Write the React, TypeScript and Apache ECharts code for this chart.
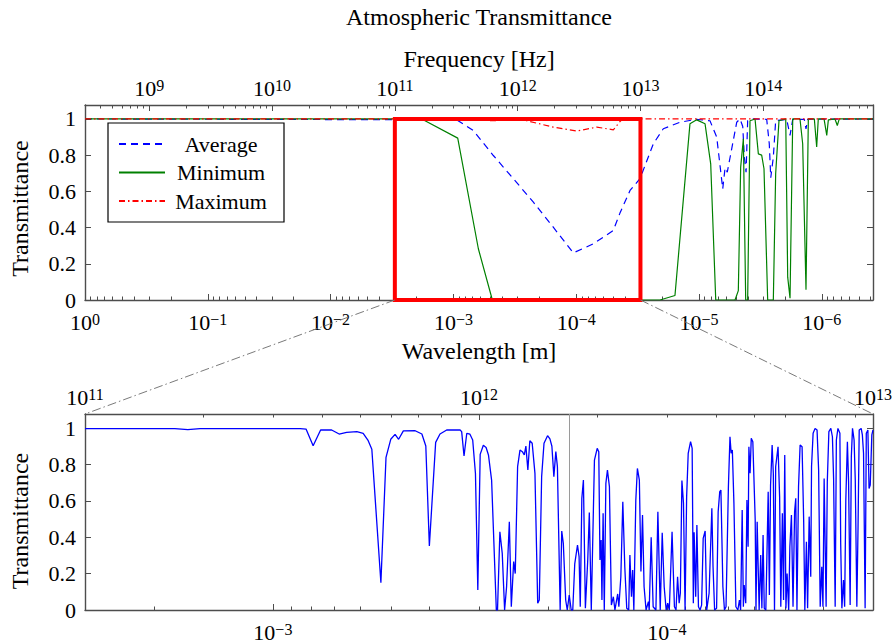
import React, { useEffect, useRef } from 'react';
import * as echarts from 'echarts';

// Speed of light relates the frequency and wavelength scales (λ = c / f)
const LIGHT_SPEED = 299792458;
const LOG_C = Math.log10(LIGHT_SPEED);

// Overview span, wavelength in metres
const LAMBDA_LONG = 1;
const LAMBDA_SHORT = 3.83e-7;

// Band enlarged in the detail panel, Hz
const DETAIL_BAND_HZ = [1e11, 1e13];

// Frequency (log10 Hz) where the detail trace switches data source
const DETAIL_DIVIDER_LOG_HZ = 12.232;

// Overview curves: x = log10(frequency / Hz), y = transmittance
const avgLogHz = [8.477, 11.504, 11.639, 11.802, 11.965, 12.128, 12.29, 12.453, 12.616, 12.779, 12.833, 12.915, 12.996, 13.105, 13.186, 13.322, 13.458, 13.566, 13.621, 13.67, 13.689, 13.707, 13.743, 13.784, 13.811, 13.833, 13.846, 13.86, 13.873, 13.919, 14.028, 14.049, 14.061, 14.082, 14.101, 14.191, 14.218, 14.24, 14.334, 14.348, 14.362, 14.894];
const avgT = [1, 0.995, 0.936, 0.798, 0.67, 0.54, 0.402, 0.26, 0.31, 0.384, 0.48, 0.605, 0.67, 0.863, 0.946, 0.982, 0.998, 0.99, 0.9, 0.614, 0.73, 0.706, 0.835, 0.982, 1, 0.958, 0.789, 0.706, 0.99, 1, 0.998, 0.863, 0.675, 0.789, 0.99, 0.998, 0.909, 0.998, 0.998, 0.945, 0.998, 1];

const minLogHz = [8.477, 11.219, 11.512, 11.68, 11.794, 13.159, 13.281, 13.403, 13.458, 13.526, 13.572, 13.613, 13.77, 13.797, 13.816, 13.838, 13.857, 13.873, 13.892, 13.933, 13.96, 13.987, 14.006, 14.036, 14.082, 14.101, 14.128, 14.183, 14.199, 14.218, 14.24, 14.299, 14.321, 14.348, 14.367, 14.416, 14.435, 14.448, 14.495, 14.517, 14.53, 14.584, 14.603, 14.619, 14.894];
const minT = [1, 1, 0.894, 0.283, 0, 0, 0.025, 0.973, 0.995, 0.973, 0.752, 0, 0, 0.052, 0.734, 0.89, 0, 0, 0.99, 1, 0.807, 0.8, 0.725, 0, 0, 0.697, 0.99, 1, 0.126, 0.01, 1, 1, 0.863, 0.056, 1, 1, 0.845, 1, 1, 0.909, 0.995, 1, 0.964, 1, 1];

const maxLogHz = [8.477, 11.612, 11.775, 12.044, 12.29, 12.481, 12.644, 12.779, 12.839, 12.888, 14.894];
const maxT = [1, 1, 0.99, 0.995, 0.955, 0.933, 0.955, 0.94, 0.99, 1, 1];

// Detail trace, 0.1–10 THz: x = log10(frequency / Hz), y = transmittance
const bandLogHz = [
  11.0, 11.228, 11.261, 11.292, 11.546, 11.561, 11.579, 11.598, 11.626, 11.645,
  11.664, 11.69, 11.706, 11.718, 11.728, 11.751, 11.764, 11.776, 11.787, 11.796,
  11.808, 11.838, 11.855, 11.865, 11.874, 11.89, 11.901, 11.918, 11.952, 11.956,
  11.962, 11.969, 11.977, 11.984, 11.991, 11.997, 12.003, 12.011, 12.018, 12.024,
  12.032, 12.044, 12.047, 12.053, 12.059, 12.065, 12.07, 12.077, 12.082, 12.088,
  12.092, 12.098, 12.104, 12.11, 12.115, 12.119, 12.124, 12.129, 12.135, 12.142,
  12.149, 12.153, 12.159, 12.165, 12.174, 12.18, 12.185, 12.19, 12.195, 12.199,
  12.206, 12.21, 12.214, 12.22, 12.224, 12.229, 12.234, 12.238, 12.243, 12.25,
  12.254, 12.257, 12.261, 12.265, 12.27, 12.276, 12.28, 12.285, 12.293, 12.3,
  12.304, 12.307, 12.31, 12.312, 12.315, 12.318, 12.322, 12.326, 12.331, 12.336,
  12.341, 12.345, 12.352, 12.355, 12.36, 12.365, 12.37, 12.375, 12.38, 12.383,
  12.387, 12.39, 12.393, 12.398, 12.402, 12.407, 12.411, 12.415, 12.419, 12.424,
  12.43, 12.432, 12.437, 12.442, 12.449, 12.454, 12.46, 12.465, 12.47, 12.475,
  12.479, 12.483, 12.49, 12.496, 12.5, 12.504, 12.508, 12.511, 12.515, 12.519,
  12.523, 12.527, 12.531, 12.537, 12.541, 12.544, 12.546, 12.55, 12.553, 12.557,
  12.561, 12.565, 12.569, 12.574, 12.578, 12.584, 12.591, 12.594, 12.598, 12.603,
  12.607, 12.611, 12.614, 12.619, 12.623, 12.627, 12.633, 12.637, 12.64, 12.643,
  12.647, 12.652, 12.657, 12.661, 12.664, 12.668, 12.671, 12.673, 12.677, 12.68,
  12.683, 12.685, 12.688, 12.691, 12.695, 12.701, 12.703, 12.706, 12.711, 12.715,
  12.718, 12.721, 12.724, 12.728, 12.734, 12.737, 12.74, 12.744, 12.747, 12.75,
  12.753, 12.759, 12.763, 12.766, 12.77, 12.773, 12.776, 12.779, 12.782, 12.786,
  12.789, 12.793, 12.797, 12.801, 12.804, 12.807, 12.811, 12.815, 12.82, 12.824,
  12.827, 12.831, 12.834, 12.838, 12.842, 12.844, 12.848, 12.853, 12.858, 12.862,
  12.866, 12.87, 12.873, 12.876, 12.881, 12.884, 12.888, 12.893, 12.897, 12.9,
  12.904, 12.907, 12.911, 12.916, 12.918, 12.921, 12.925, 12.928, 12.931, 12.935,
  12.938, 12.942, 12.945, 12.948, 12.952, 12.955, 12.959, 12.962, 12.965, 12.97,
  12.973, 12.976, 12.98, 12.983, 12.987, 12.99, 12.993, 12.997, 13.0,
];
const bandT = [
  0.997, 0.997, 0.991, 0.997, 0.997, 0.994, 0.903, 0.989, 0.989, 0.967,
  0.976, 0.98, 0.971, 0.934, 0.883, 0.15, 0.839, 0.938, 0.965, 0.938,
  0.984, 0.985, 0.967, 0.901, 0.352, 0.921, 0.967, 0.989, 0.989, 0.98,
  0.846, 0.971, 0.966, 0.934, 0.75, 0.11, 0.855, 0.905, 0.893, 0.852,
  0.714, 0, 0, 0.43, 0.311, 0, 0.128, 0.485, 0.018, 0.266,
  0.2, 0.788, 0.879, 0.87, 0.852, 0.901, 0.769, 0.93, 0.916, 0.751,
  0.037, 0.055, 0.733, 0.916, 0.958, 0.94, 0.9, 0.733, 0.87, 0.788,
  0, 0.434, 0.366, 0.055, 0, 0.082, 0, 0, 0.253, 0.357,
  0.293, 0.018, 0.614, 0.714, 0.01, 0.275, 0.535, 0, 0.824, 0.888,
  0.87, 0.275, 0.385, 0.055, 0.531, 0, 0.696, 0.769, 0.678, 0.027,
  0.073, 0, 0.088, 0.018, 0.183, 0.595, 0.238, 0.009, 0, 0.302,
  0.073, 0.22, 0, 0.604, 0.778, 0.714, 0.211, 0.522, 0.128, 0,
  0.046, 0, 0.4, 0.018, 0, 0.54, 0, 0.425, 0.128, 0,
  0.037, 0, 0.43, 0.018, 0, 0.183, 0.037, 0.092, 0.711, 0.586,
  0, 0.623, 0.861, 0.925, 0.888, 0.037, 0.427, 0.073, 0.467, 0.018,
  0, 0.027, 0.394, 0.434, 0, 0.092, 0.559, 0.238, 0, 0.009,
  0.54, 0.65, 0.659, 0.128, 0, 0.018, 0.678, 0.952, 0.861, 0.879,
  0.586, 0.018, 0, 0.055, 0, 0.549, 0.018, 0.137, 0.037, 0.604,
  0.348, 0.897, 0.751, 0.943, 0.925, 0.495, 0, 0.485, 0, 0.302,
  0.009, 0.412, 0.009, 0, 0.65, 0.082, 0.687, 0.907, 0.751, 0,
  0.788, 0.897, 0.623, 0.018, 0.531, 0.055, 0.852, 0.009, 0.2, 0,
  0.348, 0.522, 0.018, 0.54, 0.614, 0, 0.678, 0.907, 0.897, 0.495,
  0, 0.375, 0.009, 0.513, 0.183, 0.788, 0.971, 0.998, 0.989, 0.769,
  0.018, 0.238, 0.018, 0.723, 0.018, 0.705, 0.98, 0.998, 0.952, 0.723,
  0.018, 0.934, 0.998, 0.971, 0.366, 0.009, 0.165, 0.018, 0.604, 0.925,
  0.705, 0.027, 0.842, 0.998, 0.934, 0.714, 0.018, 0.449, 0.989, 0.998,
  0.962, 0.861, 0.009, 0.971, 0.989, 0.668, 0.687, 0.962, 0.989,
];

// Axis decades and tick values
const freqDecadesOverview = [9, 10, 11, 12, 13, 14];
const waveDecadesOverview = [0, -1, -2, -3, -4, -5, -6];
const freqDecadesDetail = [11, 12, 13];
const waveDecadesDetail = [-3, -4];
const transmittanceTicks = [0, 0.2, 0.4, 0.6, 0.8, 1];

const Y_TOP = 1.077;
const SERIF = "'Liberation Serif', 'Times New Roman', serif";
const INK = '#000000';
const FRAME = '#4d4d4d';

const pairs = (xs: number[], ys: number[]) => xs.map((x, i) => [x, ys[i]]);

const pow10Label = (v: number) => {
  const e = Math.round(v);
  return `{b|10}{s|${e < 0 ? '\u2212' + -e : e}}`;
};
const pow10Rich = {
  b: { fontFamily: SERIF, fontSize: 22, lineHeight: 22, color: INK },
  s: { fontFamily: SERIF, fontSize: 16, lineHeight: 8, verticalAlign: 'top', color: INK },
};

// k·10^n positions (k = 2..9) strictly inside [lo, hi], in log10 units
function minorLogTicks(lo: number, hi: number) {
  const out: number[] = [];
  for (let e = Math.floor(lo) - 1; e <= Math.ceil(hi); e++) {
    for (let k = 2; k <= 9; k++) {
      const v = e + Math.log10(k);
      if (v > lo + 1e-4 && v < hi - 1e-4) out.push(v);
    }
  }
  return out;
}

function majorXAxis(gridIndex: number, position: string, min: number, max: number, inverse: boolean,
  decades: number[], name: string, nameGap: number) {
  return {
    gridIndex, type: 'value', position, min, max, inverse,
    name, nameLocation: 'middle', nameGap, nameMoveOverlap: false,
    nameTextStyle: { fontFamily: SERIF, fontSize: 24, color: INK },
    axisLine: { show: true, onZero: false, lineStyle: { color: FRAME, width: 1.4 } },
    axisTick: { show: true, inside: true, length: 6, customValues: decades, lineStyle: { color: FRAME, width: 1 } },
    axisLabel: {
      show: true, customValues: decades, formatter: pow10Label, rich: pow10Rich,
      margin: position === 'top' ? 6 : 11,
    },
    splitLine: { show: false },
  };
}

function minorXAxis(gridIndex: number, position: string, min: number, max: number, inverse: boolean) {
  return {
    gridIndex, type: 'value', position, min, max, inverse,
    axisLine: { show: false, onZero: false },
    axisTick: { show: true, inside: true, length: 3.5, customValues: minorLogTicks(min, max), lineStyle: { color: FRAME, width: 1 } },
    axisLabel: { show: false },
    splitLine: { show: false },
  };
}

function yAxes(gridIndex: number, nameShift: number) {
  const common = {
    gridIndex, type: 'value', min: 0, max: Y_TOP,
    axisLine: { show: true, onZero: false, lineStyle: { color: FRAME, width: 1.4 } },
    axisTick: { show: true, inside: true, length: 6, customValues: transmittanceTicks, lineStyle: { color: FRAME, width: 1 } },
    splitLine: { show: false },
  };
  return [
    {
      ...common, position: 'left',
      name: 'Transmittance', nameLocation: 'middle', nameGap: 53, nameMoveOverlap: false,
      nameTextStyle: { fontFamily: SERIF, fontSize: 24, color: INK, padding: [0, nameShift, 0, 0] },
      axisLabel: {
        show: true, customValues: transmittanceTicks, fontFamily: SERIF, fontSize: 22,
        lineHeight: 18, color: INK, margin: 9,
      },
    },
    { ...common, position: 'right', axisLabel: { show: false } },
  ];
}

const hiddenY = (gridIndex: number) => ({ gridIndex, type: 'value', min: 0, max: Y_TOP, show: false });

function buildOption() {
  const fLo = LOG_C - Math.log10(LAMBDA_LONG);
  const fHi = LOG_C - Math.log10(LAMBDA_SHORT);
  const dLo = Math.log10(DETAIL_BAND_HZ[0]);
  const dHi = Math.log10(DETAIL_BAND_HZ[1]);

  const overviewRect = { left: 85, right: 22, top: 105, height: 195 };
  const detailRect = { left: 85, right: 22, top: 414, height: 196 };
  const gridBase = { containLabel: false, outerBoundsMode: 'none', show: false };

  const lineBase = {
    type: 'line', symbol: 'none', showSymbol: false, silent: true,
    emphasis: { disabled: true }, xAxisIndex: 0, yAxisIndex: 0,
  };

  return {
    animation: false,
    backgroundColor: '#ffffff',
    title: {
      text: 'Atmospheric Transmittance', left: 479, top: 5, padding: 0, textAlign: 'center',
      textStyle: { fontFamily: SERIF, fontSize: 24, fontWeight: 'normal', color: INK },
    },
    legend: {
      data: ['Average', 'Minimum', 'Maximum'],
      orient: 'vertical', left: 108, top: 123,
      itemWidth: 46, itemHeight: 14, itemGap: 6.5,
      padding: [10, 12, 10, 10],
      borderColor: '#000000', borderWidth: 1.2, backgroundColor: '#ffffff',
      selectedMode: false,
      itemStyle: { opacity: 0 },
      formatter: (name: string) => `{t|${name}}`,
      textStyle: { rich: { t: { width: 102, align: 'center', fontFamily: SERIF, fontSize: 22, lineHeight: 22, color: INK } } },
    },
    grid: [
      { ...gridBase, ...overviewRect },
      { ...gridBase, ...overviewRect },
      { ...gridBase, ...detailRect },
      { ...gridBase, ...detailRect },
    ],
    xAxis: [
      majorXAxis(0, 'top', fLo, fHi, false, freqDecadesOverview, 'Frequency [Hz]', 34),
      majorXAxis(0, 'bottom', LOG_C - fHi, LOG_C - fLo, true, waveDecadesOverview, 'Wavelength [m]', 39),
      minorXAxis(1, 'top', fLo, fHi, false),
      minorXAxis(1, 'bottom', LOG_C - fHi, LOG_C - fLo, true),
      majorXAxis(2, 'top', dLo, dHi, false, freqDecadesDetail, '', 0),
      majorXAxis(2, 'bottom', LOG_C - dHi, LOG_C - dLo, true, waveDecadesDetail, '', 0),
      minorXAxis(3, 'top', dLo, dHi, false),
      minorXAxis(3, 'bottom', LOG_C - dHi, LOG_C - dLo, true),
    ],
    yAxis: [...yAxes(0, 12), hiddenY(1), ...yAxes(2, 18), hiddenY(3)],
    series: [
      {
        ...lineBase, name: 'Average', data: pairs(avgLogHz, avgT),
        lineStyle: { color: '#0000ff', width: 1.2, type: [7, 5] }, itemStyle: { color: '#0000ff' },
      },
      {
        ...lineBase, name: 'Minimum', data: pairs(minLogHz, minT),
        lineStyle: { color: '#008000', width: 1.2 }, itemStyle: { color: '#008000' },
      },
      {
        ...lineBase, name: 'Maximum', data: pairs(maxLogHz, maxT),
        lineStyle: { color: '#ff0000', width: 1.2, type: [6, 3, 1.5, 3] }, itemStyle: { color: '#ff0000' },
      },
      {
        ...lineBase, name: 'detail band', data: [], z: 10,
        markArea: {
          silent: true, z: 10, label: { show: false },
          itemStyle: { color: 'rgba(0,0,0,0)', borderColor: '#ff0000', borderWidth: 4 },
          data: [[{ xAxis: dLo, yAxis: 0 }, { xAxis: dHi, yAxis: 1 }]],
        },
      },
      {
        ...lineBase, name: 'Spectrum', xAxisIndex: 4, yAxisIndex: 3,
        data: pairs(bandLogHz, bandT),
        lineStyle: { color: '#0000ff', width: 1.3 }, itemStyle: { color: '#0000ff' },
        markLine: {
          silent: true, z: 1, symbol: ['none', 'none'], label: { show: false },
          lineStyle: { color: '#9a9a9a', width: 1, type: 'solid' },
          data: [{ xAxis: DETAIL_DIVIDER_LOG_HZ }],
        },
      },
    ],
  };
}

export default function App() {
  const ref = useRef<HTMLDivElement>(null);

  useEffect(() => {
    if (!ref.current) return;
    const chart = echarts.init(ref.current, null, { renderer: 'svg' });
    chart.setOption(buildOption() as any);

    // Dash-dot leaders from the highlighted band down to the detail panel corners
    const dLo = Math.log10(DETAIL_BAND_HZ[0]);
    const dHi = Math.log10(DETAIL_BAND_HZ[1]);
    const px = (seriesIndex: number, pt: number[]) => chart.convertToPixel({ seriesIndex }, pt) as number[];
    const a = px(0, [dLo, 0]);
    const b = px(4, [dLo, Y_TOP]);
    const c = px(0, [dHi, 0]);
    const d = px(4, [dHi, Y_TOP]);
    const leader = (p: number[], q: number[]) => ({
      type: 'line', silent: true, z: 20,
      shape: { x1: p[0], y1: p[1], x2: q[0], y2: q[1] },
      style: { stroke: '#7a7a7a', lineWidth: 1, lineDash: [9, 3, 1.5, 3] },
    });
    chart.setOption({ graphic: [leader(a, b), leader(c, d)] });

    return () => chart.dispose();
  }, []);

  return <div ref={ref} style={{ position: 'fixed', left: 0, top: 0, width: 895, height: 643 }} />;
}
